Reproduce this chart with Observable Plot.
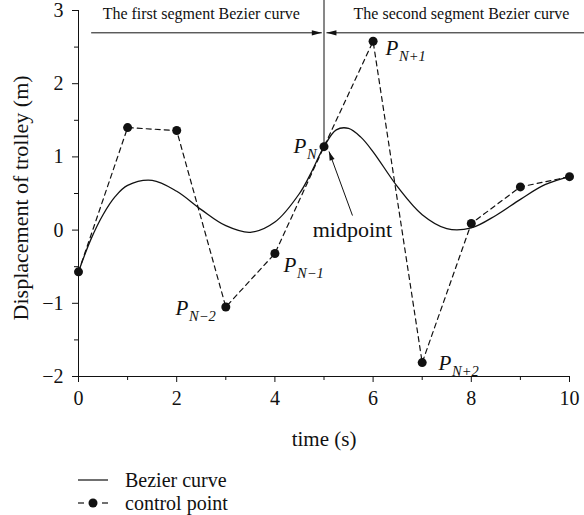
<!DOCTYPE html>
<html>
<head>
<meta charset="utf-8">
<script src="https://cdn.jsdelivr.net/npm/d3@7"></script>
<script src="https://cdn.jsdelivr.net/npm/@observablehq/plot@0.6"></script>
<style>
  html, body { margin: 0; padding: 0; background: #fff; }
  #wrap { position: relative; width: 584px; height: 515px; font-family: "Liberation Serif", "Times New Roman", serif; }
  #legend { position: absolute; left: 0; top: 450px; width: 584px; height: 65px; }
  .row { position: absolute; left: 78px; height: 22px; display: flex; align-items: center; font-family: "Liberation Serif", serif; font-size: 20px; color: #111; }
  .row svg { width: 30px; height: 20px; margin-right: 17px; flex: none; }
</style>
</head>
<body>
<div id="wrap"><div id="chart"></div><div id="legend">
  <div class="row" style="top:19px"><svg viewBox="0 0 30 20"><line x1="0" y1="10" x2="30" y2="10" stroke="#111" stroke-width="1.2"/></svg>Bezier curve</div>
  <div class="row" style="top:42px"><svg viewBox="0 0 30 20"><line x1="0" y1="10" x2="6" y2="10" stroke="#111" stroke-width="1.2"/><circle cx="15" cy="10" r="4.5" fill="#111"/><line x1="24" y1="10" x2="30" y2="10" stroke="#111" stroke-width="1.2"/></svg>control point</div>
</div></div>
<script>
// Control points (time s, displacement m)
const ctrlT = [0, 1, 2, 3, 4, 5, 6, 7, 8, 9, 10];
const ctrlY = [-0.57, 1.40, 1.36, -1.05, -0.32, 1.14, 2.58, -1.81, 0.09, 0.59, 0.73];

// Bezier curve
const curveT = [0, 0.25, 0.5, 0.75, 1, 1.5, 2, 2.5, 3, 3.5, 4, 4.5, 4.75, 5, 5.25, 5.5, 5.75, 6, 6.5, 7, 7.5, 8, 8.5, 9, 9.5, 10];
const curveY = [-0.57, -0.13, 0.21, 0.46, 0.61, 0.68, 0.53, 0.28, 0.06, -0.03, 0.11, 0.50, 0.80, 1.14, 1.37, 1.39, 1.27, 1.07, 0.59, 0.21, 0.02, 0.03, 0.20, 0.42, 0.62, 0.73];

const xTicks = [0, 2, 4, 6, 8, 10];
const xMinor = [1, 3, 5, 7, 9];
const yTicks = [-2, -1, 0, 1, 2, 3];
const yMinor = [-1.5, -0.5, 0.5, 1.5, 2.5];

// Labels of control points (P left edge / baseline)
const pLabels = [
  {x: 4.38, y: 1.052, sub: "N"},
  {x: 6.253, y: 2.391, sub: "N+1"},
  {x: 4.175, y: -0.574, sub: "N\u22121"},
  {x: 1.976, y: -1.161, sub: "N\u22122"},
  {x: 7.332, y: -1.913, sub: "N+2"}
];
const segTitles = [
  {x: 2.5, y: 2.887, text: "The first segment Bezier curve"},
  {x: 7.8, y: 2.887, text: "The second segment Bezier curve"}
];
const segArrows = [
  {x1: 0.258, y1: 2.695, x2: 4.955, y2: 2.695},
  {x1: 10.4, y1: 2.695, x2: 5.05, y2: 2.695}
];
const midArrow = [{x1: 5.58, y1: 0.199, x2: 5.102, y2: 1.074}];
const midText = [{x: 5.58, y: -0.097, text: "midpoint"}];
const divider = [{x: 5, y1: 3.14, y2: 1.14}];
const xLabel = [{x: 5, y: -2.86, text: "time (s)"}];
const yLabel = [{x: 0, y: 0.44, text: "Displacement of trolley (m)"}];

const ctrl = ctrlT.map((t, i) => ({t, y: ctrlY[i]}));
const curve = curveT.map((t, i) => ({t, y: curveY[i]}));

// filled arrowhead symbol with tip at origin, pointing along angle (deg, screen coords)
function head(angleDeg, len = 10, half = 2.7) {
  const a = angleDeg * Math.PI / 180;
  const c = Math.cos(a), s = Math.sin(a);
  return {draw(ctx) {
    const pts = [[0, 0], [-len, -half], [-len, half]].map(([px, py]) => [px * c - py * s, px * s + py * c]);
    ctx.moveTo(pts[0][0], pts[0][1]);
    ctx.lineTo(pts[1][0], pts[1][1]);
    ctx.lineTo(pts[2][0], pts[2][1]);
    ctx.closePath();
  }};
}

const W = 584, H = 450;
const mL = 78, mR = 15, mT = 10, mB = 74;
const xs = (W - mL - mR) / 10, ys = (H - mT - mB) / 5;
const midAng = Math.atan2(-(midArrow[0].y2 - midArrow[0].y1) * ys, (midArrow[0].x2 - midArrow[0].x1) * xs) * 180 / Math.PI;
const fmt = d => (d < 0 ? "\u2212" + Math.abs(d) : String(d));

const font = "Liberation Serif, Times New Roman, serif";
const chart = Plot.plot({
  width: W, height: H,
  marginLeft: mL, marginRight: mR, marginTop: mT, marginBottom: mB,
  style: {fontFamily: font, fontSize: "20px", color: "#111", background: "#fff", overflow: "visible"},
  x: {domain: [0, 10]},
  y: {domain: [-2, 3]},
  marks: [
    Plot.ruleX([0], {y1: -2, y2: 3, stroke: "#111", strokeWidth: 1}),
    Plot.ruleY([-2], {x1: 0, x2: 10, stroke: "#111", strokeWidth: 1}),
    Plot.axisX(xTicks, {tickSize: 6, tickPadding: 8, fontSize: 20, fontFamily: font, tickFormat: fmt, label: null}),
    Plot.axisX(xMinor, {tickSize: 4, tickFormat: () => "", label: null}),
    Plot.axisY(yTicks, {tickSize: 6, tickPadding: 9, fontSize: 20, fontFamily: font, tickFormat: fmt, label: null}),
    Plot.axisY(yMinor, {tickSize: 4, tickFormat: () => "", label: null}),
    Plot.text(xLabel, {x: "x", y: "y", text: "text", fontSize: 21, fontFamily: font}),
    Plot.text(yLabel, {x: "x", y: "y", text: "text", fontSize: 22, fontFamily: font, rotate: -90, dx: -58}),
    // divider & segment arrows
    Plot.ruleX(divider, {x: "x", y1: "y1", y2: "y2", stroke: "#111", strokeWidth: 1}),
    Plot.link(segArrows, {x1: "x1", y1: "y1", x2: "x2", y2: "y2", stroke: "#111", strokeWidth: 1}),
    Plot.dot(segArrows.slice(0, 1), {x: "x2", y: "y2", symbol: head(0), fill: "#111", stroke: "none"}),
    Plot.dot(segArrows.slice(1, 2), {x: "x2", y: "y2", symbol: head(180), fill: "#111", stroke: "none"}),
    Plot.text(segTitles, {x: "x", y: "y", text: "text", fontSize: 16, fontFamily: font, lineAnchor: "bottom"}),
    // data
    Plot.line(ctrl, {x: "t", y: "y", stroke: "#111", strokeWidth: 1.2, strokeDasharray: "5,4"}),
    Plot.line(curve, {x: "t", y: "y", stroke: "#111", strokeWidth: 1.3, curve: "catmull-rom"}),
    Plot.dot(ctrl, {x: "t", y: "y", r: 4.5, fill: "#111", stroke: "none"}),
    // midpoint annotation
    Plot.link(midArrow, {x1: "x1", y1: "y1", x2: "x2", y2: "y2", stroke: "#111", strokeWidth: 1}),
    Plot.dot(midArrow, {x: "x2", y: "y2", symbol: head(midAng, 9, 2.6), fill: "#111", stroke: "none"}),
    Plot.text(midText, {x: "x", y: "y", text: "text", fontSize: 22, fontFamily: font, lineAnchor: "bottom"}),
    // P labels
    Plot.text(pLabels, {x: "x", y: "y", text: () => "P", textAnchor: "start", lineAnchor: "bottom", fontSize: 21, fontFamily: font, fontStyle: "italic"}),
    Plot.text(pLabels, {x: "x", y: "y", text: "sub", textAnchor: "start", lineAnchor: "bottom", dx: 13.5, dy: 6, fontSize: 14.5, fontFamily: font, fontStyle: "italic"})
  ]
});
document.getElementById("chart").appendChild(chart);
</script>
</body>
</html>
